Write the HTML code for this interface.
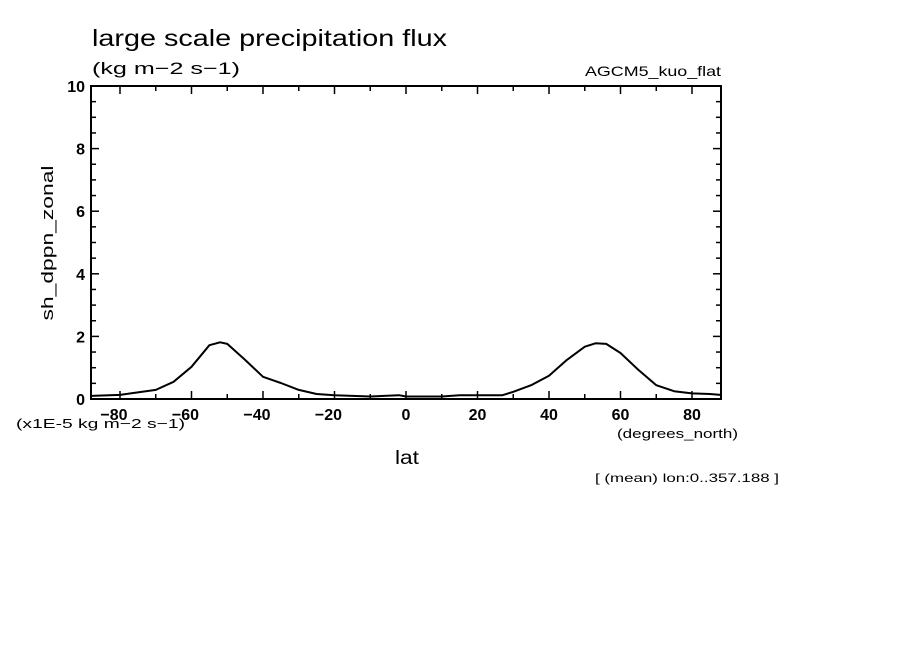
<!DOCTYPE html>
<html><head><meta charset="utf-8"><style>
body{margin:0;background:#fff;width:904px;height:654px;overflow:hidden}
text{font-family:"Liberation Sans",sans-serif;fill:#000}
</style></head><body>
<svg id="chart" width="904" height="654" xmlns="http://www.w3.org/2000/svg">
<text x="92" y="46" font-size="23" textLength="355" lengthAdjust="spacingAndGlyphs">large scale precipitation flux</text>
<text x="92" y="74" font-size="17" textLength="148" lengthAdjust="spacingAndGlyphs">(kg m−2 s−1)</text>
<text x="585" y="76" font-size="14" textLength="136" lengthAdjust="spacingAndGlyphs">AGCM5_kuo_flat</text>
<text x="0" y="0" font-size="17" text-anchor="middle" textLength="155" lengthAdjust="spacingAndGlyphs" transform="translate(53,243) rotate(-90)">sh_dppn_zonal</text>
<text x="16" y="428" font-size="13" textLength="169" lengthAdjust="spacingAndGlyphs">(x1E-5 kg m−2 s−1)</text>
<text x="617" y="438" font-size="13" textLength="121" lengthAdjust="spacingAndGlyphs">(degrees_north)</text>
<text x="395" y="464" font-size="19" textLength="24" lengthAdjust="spacingAndGlyphs">lat</text>
<text x="595" y="482" font-size="12" textLength="184" lengthAdjust="spacingAndGlyphs">[ (mean) lon:0..357.188 ]</text>
<g id="axes"></g>
<g id="series"></g>
</svg>
<script>
const lats=[-88,-80,-70,-65,-60,-55,-52,-50,-45,-40,-35,-30,-25,-20,-10,-2,0,10,15,25,27,30,35,40,45,50,53,56,60,65,70,75,80,85,88];
const vals=[0.1,0.13,0.29,0.55,1.03,1.72,1.81,1.76,1.25,0.71,0.51,0.29,0.16,0.12,0.08,0.12,0.08,0.08,0.12,0.12,0.12,0.23,0.44,0.74,1.25,1.67,1.78,1.76,1.47,0.93,0.44,0.25,0.18,0.16,0.13];
const xTicks=[-80,-60,-40,-20,0,20,40,60,80];
const yTicks=[0,2,4,6,8,10];
const NS="http://www.w3.org/2000/svg";
const L=91,R=721,T=86,B=399;
const xs=v=>406+v*3.575;
const ys=v=>B-(v/10)*(B-T);
const ax=document.getElementById('axes');
function mk(tag,attrs,parent){const e=document.createElementNS(NS,tag);for(const k in attrs)e.setAttribute(k,attrs[k]);parent.appendChild(e);return e;}
const frame=mk('rect',{x:L,y:T,width:R-L,height:B-T,fill:'none',stroke:'#000','stroke-width':2},ax);


for(let d=-80;d<=80;d+=10){
  const len=(d%20===0)?8:5;
  const t1=mk('line',{x1:xs(d),x2:xs(d),y1:B,y2:B-len,stroke:'#000','stroke-width':1.5},ax);
  
  
  const t2=mk('line',{x1:xs(d),x2:xs(d),y1:T,y2:T+len,stroke:'#000','stroke-width':1.5},ax);
  
  
}
for(let v=0;v<=10;v+=0.5){
  const len=(v%2===0)?8:5;
  const t1=mk('line',{x1:L,x2:L+len,y1:ys(v),y2:ys(v),stroke:'#000','stroke-width':1.5},ax);
  
  
  const t2=mk('line',{x1:R,x2:R-len,y1:ys(v),y2:ys(v),stroke:'#000','stroke-width':1.5},ax);
  
  
}
xTicks.forEach(d=>{
  const t=mk('text',{x:xs(d)-(d<0?6:0),y:B+21,'font-size':16,'font-weight':'bold','text-anchor':'middle'},ax);
  t.textContent=d<0?'−'+Math.abs(d):String(d);
  
  
});
yTicks.forEach(v=>{
  const t=mk('text',{x:L-6,y:ys(v)+6,'font-size':16,'font-weight':'bold','text-anchor':'end'},ax);
  t.textContent=String(v);
  
  
});
const pts=lats.map((d,i)=>xs(d).toFixed(1)+','+ys(vals[i]).toFixed(1)).join(' ');
const line=mk('polyline',{points:pts,fill:'none',stroke:'#000','stroke-width':2,'stroke-linejoin':'round'},document.getElementById('series'));


</script>
</body></html>
